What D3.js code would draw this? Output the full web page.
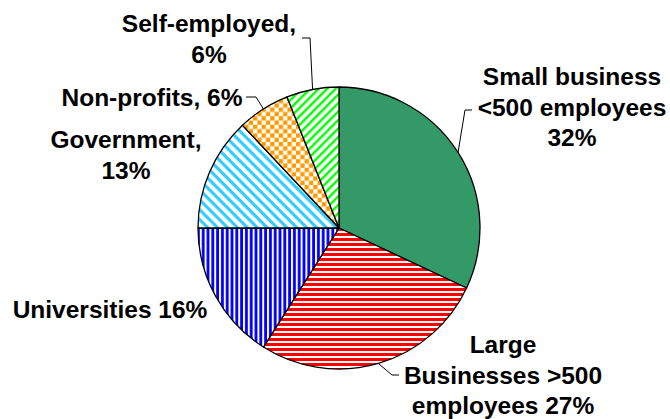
<!DOCTYPE html>
<html>
<head>
  <meta charset="utf-8">
  <title>Employer sectors pie</title>
  <script src="https://d3js.org/d3.v7.min.js"></script>
  <style>
    body { margin: 0; background: #fff; }
    text { font-family: "Liberation Sans", Arial, sans-serif; font-weight: bold; }
  </style>
</head>
<body>
  <script>
    // data
    var categories = ["Small business", "Large Businesses", "Universities", "Government", "Non-profits", "Self-employed"];
    var values = [32, 27, 16, 13, 6, 6];
    var labelLines = [
      ["Small business", "<500 employees", "32%"],
      ["Large", "Businesses >500", "employees 27%"],
      ["Universities 16%"],
      ["Government,", "13%"],
      ["Non-profits, 6%"],
      ["Self-employed,", "6%"]
    ];

    // layout (label centre x, first baseline y) and whether a leader is drawn
    var labelPos = [[572, 85], [503, 353], [110, 318], [126, 148], [152, 106], [209, 32]];
    var leaderFrom = [[472, 110, -7], [399, 375, -7], null, null, [246, 97, 10], [302, 38, 8]];

    var width = 670, height = 419;
    var cx = 339, cy = 228, r = 141;
    var lineH = 30.5;

    var svg = d3.select("body").append("svg").attr("width", width).attr("height", height);
    var defs = svg.append("defs");

    // fills: solid, stripes, checks
    function stripes(id, size, w, color, angle) {
      var p = defs.append("pattern").attr("id", id)
        .attr("patternUnits", "userSpaceOnUse")
        .attr("width", size).attr("height", size)
        .attr("patternTransform", "rotate(" + angle + ")");
      p.append("rect").attr("width", size).attr("height", size).attr("fill", "#fff");
      p.append("rect").attr("width", size).attr("height", w).attr("fill", color);
    }
    stripes("pRed", 5, 3, "#ff0000", 0);
    stripes("pBlue", 4.8, 2.8, "#0000ff", 90);
    stripes("pCyan", 7, 3.2, "#33ccff", 45);
    stripes("pGreen", 6, 2.4, "#00ff00", -45);

    var chk = defs.append("pattern").attr("id", "pChk")
      .attr("patternUnits", "userSpaceOnUse").attr("width", 8.6).attr("height", 8.6);
    chk.append("rect").attr("width", 8.6).attr("height", 8.6).attr("fill", "#fff");
    chk.append("rect").attr("width", 4.3).attr("height", 4.3).attr("fill", "#ff9900");
    chk.append("rect").attr("x", 4.3).attr("y", 4.3).attr("width", 4.3).attr("height", 4.3).attr("fill", "#ff9900");

    var fills = ["#339966", "url(#pRed)", "url(#pBlue)", "url(#pCyan)", "url(#pChk)", "url(#pGreen)"];

    var pie = d3.pie().sort(null).value(d => d);
    var arcs = pie(values);
    var arc = d3.arc().innerRadius(0).outerRadius(r);
    var edge = d3.arc().innerRadius(r).outerRadius(r);

    var g = svg.append("g").attr("transform", "translate(" + cx + "," + cy + ")");
    g.selectAll("path.slice")
      .data(arcs)
      .enter()
      .append("path")
      .attr("class", "slice")
      .attr("d", arc)
      .attr("fill", (d, i) => fills[i])
      .attr("stroke", "#000")
      .attr("stroke-width", 1.3)
      .attr("stroke-linejoin", "round");

    // leader lines: from label to mid-point of the slice edge
    arcs.forEach(function (d, i) {
      var lf = leaderFrom[i];
      if (!lf) return;
      var c = edge.centroid(d);
      var pts = [[lf[0], lf[1]], [lf[0] + lf[2], lf[1]], [cx + c[0], cy + c[1]]];
      svg.append("path")
        .attr("d", d3.line()(pts))
        .attr("fill", "none")
        .attr("stroke", "#000")
        .attr("stroke-width", 1);
    });

    // labels
    labelLines.forEach(function (lines, i) {
      var t = svg.append("text")
        .attr("x", labelPos[i][0])
        .attr("y", labelPos[i][1])
        .attr("text-anchor", "middle")
        .attr("font-size", 24.5)
        .attr("fill", "#000");
      lines.forEach(function (s, k) {
        t.append("tspan").attr("x", labelPos[i][0]).attr("dy", k === 0 ? 0 : lineH).text(s);
      });
    });
  </script>
</body>
</html>
